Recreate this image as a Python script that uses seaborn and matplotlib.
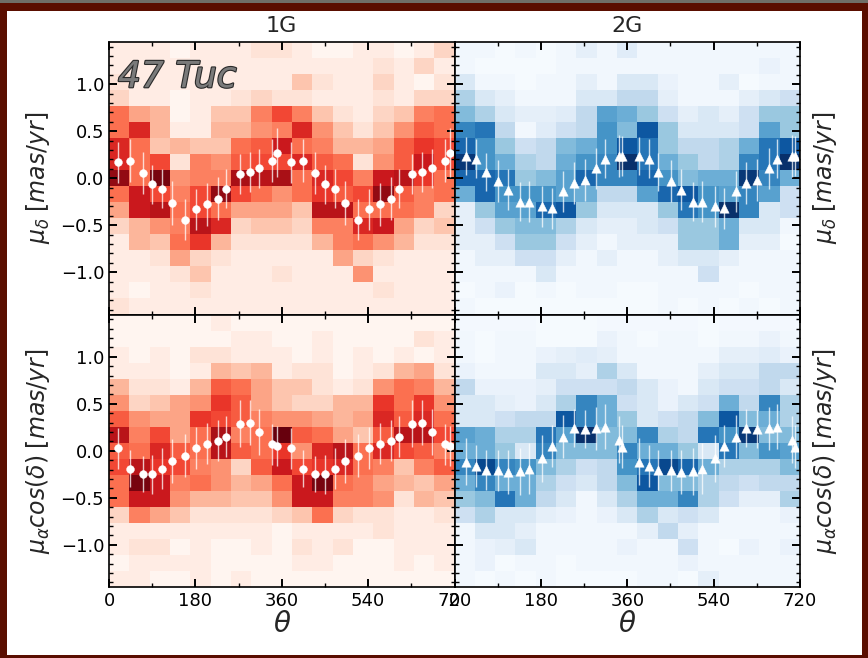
import numpy as np
import pandas as pd
import matplotlib
matplotlib.use("Agg")
import matplotlib.pyplot as plt
import matplotlib.patheffects as pe
from matplotlib.patches import Rectangle
from matplotlib.ticker import MultipleLocator
import seaborn as sns

# ---------------------------------------------------------------------------
# Binned star counts (rows run from high to low proper motion, 17 x 17 bins)
# ---------------------------------------------------------------------------
counts_1g_dec = [
    [1, 1, 1, 0.5, 1, 1, 1, 1.5, 1.5, 1, 0.5, 0.5, 1, 1, 0.5, 1, 2],
    [1, 1, 1, 1, 1, 1, 1, 1, 1, 1, 1, 1, 1, 1.5, 1, 2, 1],
    [1.5, 1, 1, 1, 1, 1, 1, 1, 1, 2.5, 1.5, 1, 1, 2, 1, 0.5, 1.5],
    [2, 1, 1, 0.5, 1, 1, 1.5, 2, 1.5, 1.5, 1, 1, 1, 1.5, 1, 2, 2],
    [5, 3.5, 3, 0.5, 1, 2.5, 2.5, 4.5, 6, 4.5, 2.5, 1.5, 1, 2, 2.5, 4.5, 5],
    [5, 7, 3, 1, 1, 3, 3, 4, 4.5, 7, 4, 2.5, 1.5, 2.5, 4, 5.5, 5],
    [7, 5, 2.5, 3, 2.5, 2.5, 5, 5.5, 7.5, 5, 4.5, 3, 3, 3.5, 5.5, 6.5, 6],
    [7, 5, 6, 1.5, 4.5, 4, 5.5, 6, 6, 7, 5.5, 5, 1.5, 4, 5.5, 7.5, 6],
    [9, 5, 9.5, 4, 4.5, 4.5, 8.5, 8, 8.5, 5, 7, 6, 4.5, 7.5, 8, 6.5, 5],
    [5, 7.5, 6, 4.5, 6, 9, 6, 5, 4, 5, 6.5, 5.5, 6, 9, 5.5, 4.5, 5],
    [3.5, 7.5, 8, 5, 6, 5, 3.5, 3.5, 3.5, 2.5, 8, 8, 5, 5, 5, 4.5, 2],
    [2, 3, 4, 4.5, 8, 7, 2, 2.5, 2.5, 2, 4.5, 4.5, 7, 7.5, 3.5, 2, 2.5],
    [1, 3, 2.5, 5, 6.5, 3, 1.5, 1.5, 1.5, 1.5, 3, 4.5, 5, 4, 3, 1.5, 1.5],
    [1, 1, 1.5, 3.5, 2, 1.5, 1, 1, 1, 1, 1, 3.5, 2, 1.5, 1, 1, 1],
    [1, 1, 1, 1.5, 2.5, 1, 1, 1, 1.5, 1, 1, 1, 4, 1, 1, 1, 1],
    [1, 0.5, 1, 1, 1.5, 1, 1, 1, 1, 1, 1, 1, 1, 1.5, 1, 1, 1],
    [1.5, 1, 1, 1, 1, 1, 1, 1, 1, 1, 1, 1, 1, 1, 1, 1, 1],
]

counts_2g_dec = [
    [0.5, 0.5, 0.3, 0.5, 0.3, 0.5, 1, 0.5, 1.2, 0.5, 0.5, 0.5, 0.5, 0.5, 0.5, 0.5, 0.5],
    [0.5, 0.3, 0.3, 0.3, 0.3, 0.5, 0.5, 0.5, 0.5, 0.5, 0.5, 0.5, 0.5, 0.5, 0.5, 0.8, 0.5],
    [1.5, 0.5, 0.5, 0.3, 0.5, 0.5, 1, 0.5, 1.5, 1.5, 0.8, 0.5, 0.5, 1, 0.3, 0.5, 0.5],
    [3, 1.5, 1, 0.5, 0.5, 0.5, 1.5, 1.5, 2.5, 2.5, 1, 0.5, 0.5, 0.5, 1, 1.5, 2],
    [4, 3, 1.5, 1, 1, 1.2, 2.5, 5, 4.5, 3.5, 2, 1, 1.5, 1, 2, 3.5, 3.5],
    [6, 6.5, 2.5, 0.5, 1.2, 2, 2.5, 5.5, 4, 7.5, 3.5, 1.5, 1.5, 1.5, 2, 5, 3.5],
    [7, 5.5, 3.5, 2, 2.5, 4, 4.5, 5.5, 7.5, 6.5, 3.5, 2.5, 2.5, 3, 4.5, 6.5, 7.5],
    [8.5, 5.5, 4.5, 3, 2.5, 4.5, 5.5, 6, 9.5, 6.5, 4.5, 3.5, 2.5, 3, 6, 6.5, 9],
    [7, 7, 6.5, 3.5, 4, 5, 7, 6, 6, 7, 5.5, 4, 4.5, 4.5, 8.5, 6, 4.5],
    [4.5, 7, 5.5, 5.5, 5.5, 5, 4.5, 2.5, 2.5, 5, 7, 7.5, 5.5, 5, 6, 5, 2],
    [1, 3.5, 5, 5, 7, 7.5, 3.5, 1.5, 1.5, 1.5, 3.5, 6.5, 5.5, 9.5, 6, 1.5, 2],
    [1, 2, 3.5, 4, 4, 3, 1.5, 1, 1, 1.5, 2, 3.5, 3.5, 4.5, 1.5, 1.5, 0.5],
    [1, 1, 2, 3.5, 3.5, 2, 1, 0.5, 1, 1, 1, 3.5, 3.5, 4.5, 1, 1, 0.3],
    [0.5, 1, 1, 2, 2, 1, 0.5, 1, 0.5, 0.5, 1, 1.5, 1.5, 1, 0.5, 0.5, 0.5],
    [0.5, 0.5, 0.5, 0.5, 1.5, 0.5, 0.5, 0.5, 0.5, 0.5, 0.5, 0.5, 2, 0.5, 0.5, 0.5, 0.5],
    [0.3, 0.5, 0.8, 0.3, 0.5, 0.3, 0.5, 0.5, 0.3, 0.3, 0.5, 0.5, 0.5, 0.5, 0.3, 0.5, 0.5],
    [0.5, 0.3, 0.3, 0.3, 0.3, 0.3, 0.3, 0.3, 0.3, 0.3, 0.5, 0.3, 0.5, 0.3, 0.5, 0.3, 0.5],
]

counts_1g_ra = [
    [0.5, 0.5, 0.5, 0.5, 0.5, 1, 0.5, 0.5, 0.5, 0.5, 0.5, 0.5, 0.5, 0.5, 0.5, 0.5, 0.5],
    [0.5, 0.5, 0.5, 0.5, 0.5, 0.5, 1, 1, 0.5, 0.5, 1, 0.5, 0.5, 0.5, 0.5, 1.5, 1],
    [1, 0.5, 1, 0.5, 1.5, 1.5, 1, 1, 1, 0.5, 1, 0.5, 1, 0.5, 1, 0.5, 1],
    [1, 1, 1, 0.5, 1, 3, 2.5, 3, 1, 1.5, 1.5, 0.5, 1, 1.5, 3, 3.5, 1.5],
    [3, 1.5, 1.5, 1, 3, 5.5, 5, 3.5, 2.5, 2.5, 1.5, 1, 1.5, 4, 5, 4.5, 3],
    [4, 2, 2.5, 3.5, 4, 6.5, 5.5, 3.5, 2.5, 2, 2, 3, 3, 6.5, 5, 6.5, 4],
    [5.5, 4, 3.5, 3.5, 6.5, 6, 5.5, 4.5, 4, 4, 3.5, 3, 3.5, 7, 5.5, 7, 5],
    [8, 4.5, 6, 3.5, 5, 8.5, 4.5, 5, 10, 5.5, 5, 3.5, 2.5, 5.5, 8, 8, 6],
    [5.5, 5, 7, 5.5, 5, 8, 5.5, 5, 6.5, 4, 7, 8, 5, 7, 6, 5.5, 4.5],
    [6, 8, 6.5, 6, 4.5, 4, 2, 5.5, 7.5, 6, 6.5, 7, 5, 4.5, 2.5, 4.5, 5.5],
    [5, 9.5, 7.5, 4.5, 5, 4, 3, 3.5, 5, 7.5, 9.5, 5, 4.5, 3.5, 3, 2.5, 3.5],
    [5, 7.5, 7.5, 4, 3, 3, 2.5, 2.5, 4, 7.5, 7.5, 4.5, 4.5, 4, 1.5, 3, 2.5],
    [2, 4.5, 3.5, 2.5, 1.5, 1.5, 1.5, 1.5, 2, 2.5, 5, 2, 1.5, 1.5, 1, 1, 1.5],
    [1, 1, 1, 1, 1, 1, 1, 1, 0.5, 1, 1, 1, 1, 1.5, 1, 1, 1],
    [1, 1.5, 1.5, 0.5, 1, 0.5, 0.5, 1, 0.5, 1.5, 1, 1.5, 0.5, 0.5, 1, 1, 1],
    [0.5, 1, 1, 1, 1, 0.5, 0.5, 0.5, 0.5, 1, 1, 0.5, 0.5, 0.5, 1, 0.5, 1],
    [1, 1, 0.5, 0.5, 1, 0.5, 1, 0.5, 0.5, 0.5, 0.5, 0.5, 0.5, 0.5, 0.5, 0.5, 0.5],
]

counts_2g_ra = [
    [0.4, 0.4, 0.4, 0.4, 0.3, 0.3, 0.3, 0.4, 0.4, 0.4, 0.4, 0.4, 0.3, 0.4, 0.4, 0.4, 0.4],
    [0.5, 0.3, 0.5, 0.5, 0.3, 0.3, 0.3, 0.8, 0.5, 0.3, 0.5, 0.5, 0.3, 0.5, 0.5, 0.8, 0.5],
    [0.5, 0.3, 0.5, 0.5, 0.8, 1, 1.2, 1, 0.5, 0.5, 0.5, 0.5, 0.5, 1, 1, 1.2, 0.8],
    [0.8, 0.5, 0.5, 0.5, 1.5, 1.5, 1, 3, 1.5, 0.5, 0.5, 0.5, 1, 1.5, 1.5, 2.5, 2.5],
    [2.5, 0.8, 0.8, 0.8, 1, 2, 2, 2, 2.5, 1.5, 0.8, 0.5, 1.5, 2, 2, 2.5, 1.5],
    [1.5, 1.5, 1, 0.8, 1.5, 3, 6, 4.5, 2, 1.5, 0.8, 1.5, 2, 4.5, 2.5, 6, 3],
    [1.5, 1.5, 2, 2.5, 2.5, 7.5, 6, 4.5, 3.5, 1.5, 2, 2.5, 4, 7.5, 4, 4.5, 3],
    [5, 4.5, 3, 3, 6.5, 5, 9.5, 4, 4, 6, 3, 2.5, 6.5, 5.5, 8.5, 4, 4],
    [4.5, 4.5, 3.5, 1.5, 6, 4, 4, 4, 6, 4.5, 4.5, 3.5, 1.5, 6.5, 4, 5.5, 5],
    [6, 8, 6, 5.5, 4, 3, 2, 2.5, 5.5, 6.5, 8, 7, 4.5, 3, 3, 3, 4],
    [4.5, 6, 4.5, 4.5, 3, 2, 1.5, 2.5, 4, 7.5, 4, 4, 3, 2.5, 2, 2.5, 2.5],
    [3.5, 4, 6.5, 4.5, 2.5, 1.5, 0.5, 1.5, 3, 4.5, 4.5, 6, 3, 2, 1, 1, 3],
    [2, 3, 1.5, 1.5, 1, 0.8, 0.5, 0.8, 1.5, 3, 1.5, 2, 1.5, 0.5, 0.5, 0.5, 0.8],
    [0.5, 1.5, 1.5, 1, 0.5, 0.5, 0.5, 0.5, 0.5, 1, 2.5, 1, 0.5, 0.5, 0.5, 0.5, 0.5],
    [0.5, 0.8, 1, 1.5, 0.5, 0.5, 0.5, 0.5, 0.8, 0.5, 0.5, 2, 0.5, 0.3, 0.8, 0.5, 0.8],
    [0.5, 0.8, 0.3, 0.5, 0.5, 0.3, 0.5, 0.5, 0.5, 0.5, 0.5, 0.8, 0.5, 0.5, 0.5, 0.5, 0.5],
    [0.5, 0.3, 0.5, 0.3, 0.5, 0.3, 0.3, 0.3, 0.3, 0.5, 0.5, 0.3, 1, 0.5, 0.5, 0.5, 0.5],
]

# ---------------------------------------------------------------------------
# Mean proper motions (with errors) in position-angle bins, theta in degrees
# ---------------------------------------------------------------------------
theta_1g = [19.5, 44, 70, 90, 111, 131, 159, 182, 204, 227, 244, 272, 293, 313, 340, 350]
mu_dec_1g = [0.17, 0.185, 0.057, -0.064, -0.11, -0.264, -0.44, -0.33, -0.278, -0.218,
             -0.11, 0.046, 0.068, 0.104, 0.185, 0.271]
err_dec_1g = [0.22, 0.23, 0.22, 0.21, 0.21, 0.23, 0.22, 0.22, 0.23, 0.23,
              0.21, 0.21, 0.21, 0.21, 0.23, 0.26]
mu_ra_1g = [0.026, -0.19, -0.246, -0.25, -0.19, -0.11, -0.053, 0.029, 0.075, 0.107,
            0.15, 0.286, 0.30, 0.20, 0.068, 0.05]
err_ra_1g = [0.22, 0.20, 0.19, 0.21, 0.22, 0.23, 0.23, 0.22, 0.22, 0.22,
             0.22, 0.25, 0.24, 0.24, 0.22, 0.21]

theta_2g = [23.6, 45.8, 65, 91.6, 112, 136, 156, 183, 202.5, 227, 248, 271, 295.5, 313, 343, 350]
mu_dec_2g = [0.235, 0.21, 0.067, -0.03, -0.12, -0.25, -0.25, -0.30, -0.32, -0.14,
             -0.05, -0.02, 0.104, 0.21, 0.235, 0.235]
err_dec_2g = [0.20, 0.21, 0.20, 0.22, 0.22, 0.21, 0.22, 0.22, 0.22, 0.22,
              0.22, 0.22, 0.22, 0.21, 0.22, 0.21]
mu_ra_2g = [-0.117, -0.164, -0.207, -0.21, -0.225, -0.22, -0.19, -0.08, 0.05, 0.15,
            0.24, 0.23, 0.24, 0.257, 0.115, 0.043]
err_ra_2g = [0.25, 0.22, 0.21, 0.22, 0.23, 0.25, 0.27, 0.25, 0.22, 0.23,
             0.20, 0.20, 0.23, 0.24, 0.25, 0.23]

column_titles = ["1G", "2G"]
dec_label = r"$\mu_{\delta}\;[mas/yr]$"
ra_label = r"$\mu_{\alpha}cos(\delta)\;[mas/yr]$"
theta_ticks = [0, 180, 360, 540, 720]
mu_ticks = [-1.0, -0.5, 0.0, 0.5, 1.0]

# Bin layout of the 2D histograms
theta_edges = np.linspace(0, 720, 18)
mu_edges = np.linspace(-1.45, 1.45, 18)
theta_centers = 0.5 * (theta_edges[:-1] + theta_edges[1:])
mu_centers = 0.5 * (mu_edges[:-1] + mu_edges[1:])[::-1]   # top row first

sns.set_theme(style="white")
plt.rcParams["font.family"] = ["DejaVu Sans"]
plt.rcParams["mathtext.fontset"] = "dejavusans"


def counts_frame(counts):
    rows = []
    for r, row in enumerate(counts):
        for c, w in enumerate(row):
            rows.append((theta_centers[c], mu_centers[r], w))
    return pd.DataFrame(rows, columns=["theta", "mu", "n"])


def draw_panel(ax, counts, cmap, vmin, vmax, theta, mu, err, marker, msize):
    sns.histplot(data=counts_frame(counts), x="theta", y="mu", weights="n",
                 bins=(theta_edges, mu_edges), cmap=cmap, vmin=vmin, vmax=vmax,
                 ax=ax, cbar=False)
    # the profile covers 0-360 deg and is shown twice along the axis
    th = np.concatenate([theta, np.asarray(theta) + 360])
    mm = np.concatenate([mu, mu])
    ee = np.concatenate([err, err])
    ax.errorbar(th, mm, yerr=ee, fmt="none", ecolor="white", elinewidth=1.0,
                alpha=0.75, capsize=0, zorder=4)
    sns.scatterplot(x=th, y=mm, marker=marker, color="white", s=msize,
                    edgecolor="white", linewidth=0.3, ax=ax, zorder=5)
    ax.set_axisbelow(False)
    ax.set_xlim(0, 720)
    ax.set_ylim(-1.45, 1.45)
    ax.set_xticks(theta_ticks)
    ax.set_yticks(mu_ticks)
    ax.xaxis.set_minor_locator(MultipleLocator(90))
    ax.yaxis.set_minor_locator(MultipleLocator(0.1))
    ax.tick_params(which="both", direction="in", top=True, bottom=True,
                   left=True, right=True, colors="black", labelsize=13)
    ax.tick_params(which="major", length=6, width=1.4)
    ax.tick_params(which="minor", length=3, width=1.0)
    for sp in ax.spines.values():
        sp.set_color("black")
        sp.set_linewidth(1.2)
        sp.set_zorder(6)
    ax.set_xlabel("")
    ax.set_ylabel("")


fig = plt.figure(figsize=(8.68, 6.58), dpi=100, facecolor="#5a0e00")
fig.patches.append(Rectangle((7 / 868, 3 / 658), 855 / 868, 644 / 658,
                             transform=fig.transFigure, facecolor="white",
                             edgecolor="none", zorder=-1))
fig.patches.append(Rectangle((0, 655 / 658), 1, 3 / 658,
                             transform=fig.transFigure, facecolor="#6f6f68",
                             edgecolor="none", zorder=-1))

gs = fig.add_gridspec(2, 2, left=109 / 868, right=800 / 868,
                      bottom=(658 - 587) / 658, top=(658 - 42) / 658,
                      hspace=0, wspace=0)
ax_tl = fig.add_subplot(gs[0, 0])
ax_tr = fig.add_subplot(gs[0, 1])
ax_bl = fig.add_subplot(gs[1, 0])
ax_br = fig.add_subplot(gs[1, 1])

draw_panel(ax_tl, counts_1g_dec, "Reds", 0.5, 9.8, theta_1g, mu_dec_1g, err_dec_1g, "o", 32)
draw_panel(ax_tr, counts_2g_dec, "Blues", 0.2, 8.8, theta_2g, mu_dec_2g, err_dec_2g, "^", 46)
draw_panel(ax_bl, counts_1g_ra, "Reds", 0.5, 9.8, theta_1g, mu_ra_1g, err_ra_1g, "o", 32)
draw_panel(ax_br, counts_2g_ra, "Blues", 0.2, 8.8, theta_2g, mu_ra_2g, err_ra_2g, "^", 46)

for ax in (ax_tl, ax_tr):
    ax.tick_params(labelbottom=False)
for ax in (ax_tr, ax_br):
    ax.tick_params(labelleft=False)
    ax.yaxis.set_label_position("right")

ax_tl.set_title(column_titles[0], fontsize=16, pad=7)
ax_tr.set_title(column_titles[1], fontsize=16, pad=7)

ax_tl.set_ylabel(dec_label, fontsize=17, labelpad=6)
ax_bl.set_ylabel(ra_label, fontsize=17, labelpad=6)
ax_tr.set_ylabel(dec_label, fontsize=17, labelpad=8)
ax_br.set_ylabel(ra_label, fontsize=17, labelpad=8)

ax_bl.set_xlabel(r"$\theta$", fontsize=20, labelpad=0)
ax_br.set_xlabel(r"$\theta$", fontsize=20, labelpad=0)

ax_tl.text(0.026, 0.834, "47 Tuc", transform=ax_tl.transAxes, fontsize=26,
           style="italic", color="#7a7a7a", va="baseline", ha="left", zorder=6,
           path_effects=[pe.withStroke(linewidth=1.6, foreground="#2a2a2a")])

fig.savefig("out.png", dpi=100, facecolor=fig.get_facecolor())
